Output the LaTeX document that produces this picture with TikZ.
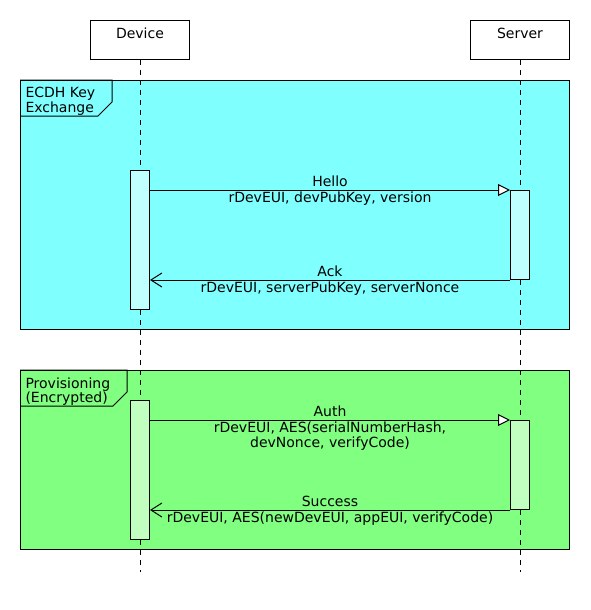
\documentclass[tikz,border=0pt]{standalone}
\usepackage{fontspec}
\setmainfont{DejaVu Sans}
\usetikzlibrary{arrows.meta}
\definecolor{grpcyan}{HTML}{80FFFF}
\definecolor{actcyan}{HTML}{C0FFFF}
\definecolor{grpgreen}{HTML}{80FF80}
\definecolor{actgreen}{HTML}{C0FFC0}
\begin{document}
\begin{tikzpicture}[x=1pt,y=-1pt,line width=1pt,
  font=\fontsize{14}{15.5}\selectfont,
  participant/.style={draw,fill=white,minimum width=99pt,minimum height=39pt,anchor=north west,inner sep=0pt},
  group/.style={draw,anchor=north west,minimum width=549pt,inner sep=0pt},
  act/.style={draw,anchor=north west,minimum width=19pt,inner sep=0pt},
  lifeline/.style={dash pattern=on 5pt off 5pt},
  tablabel/.style={anchor=north west,align=left,inner sep=0pt,font=\fontsize{14}{12.5}\selectfont},
  msgtext/.style={inner sep=1pt,align=center},
  sync/.style={-{Triangle[open,fill=white,length=12pt,width=12pt]}},
  reply/.style={-{Straight Barb[length=11pt,width=14pt]}}]
\useasboundingbox (0,0) rectangle (590,610);
% groups
\node[group,fill=grpcyan,minimum height=249pt] (g1) at (20,80) {};
\node[group,fill=grpgreen,minimum height=179pt] (g2) at (20,370) {};
\draw (g1.north west) -- (112,80) -- (112,102) -- (98,116) -- (20,116);
\draw (g2.north west) -- (127,370) -- (127,392) -- (113,406) -- (20,406);
\node[tablabel] (t1) at (25,87) {ECDH Key\\Exchange};
\node[tablabel] (t2) at (25,377) {Provisioning\\(Encrypted)};
% participants
\node[participant] (dev) at (90,20) {};
\node[participant] (srv) at (470,20) {};
\node (devl) at (dev.north) [anchor=north,yshift=-8pt,inner sep=0pt,text height=10pt] {Device};
\node (srvl) at (srv.north) [anchor=north,yshift=-8pt,inner sep=0pt,text height=10pt] {Server};
\coordinate (devend) at (140,572);
\coordinate (srvend) at (520,572);
\draw[lifeline] (dev.south) -- (devend);
\draw[lifeline] (srv.south) -- (srvend);
% activations
\node[act,fill=actcyan,minimum height=139pt] (da1) at (130,170) {};
\node[act,fill=actcyan,minimum height=89pt] (sa1) at (510,190) {};
\node[act,fill=actgreen,minimum height=139pt] (da2) at (130,400) {};
\node[act,fill=actgreen,minimum height=89pt] (sa2) at (510,420) {};
% messages
\draw[sync] (da1.east |- sa1.north) -- node[msgtext,above=1.5pt] (m1a) {Hello} node[msgtext,below] (m1b) {rDevEUI, devPubKey, version} (sa1.north west);
\draw[reply] (sa1.south west) -- node[msgtext,above=1.5pt] (m2a) {Ack} node[msgtext,below] (m2b) {rDevEUI, serverPubKey, serverNonce} (da1.east |- sa1.south);
\draw[sync] (da2.east |- sa2.north) -- node[msgtext,above=1.5pt] (m3a) {Auth} node[msgtext,below] (m3b) {rDevEUI, AES(serialNumberHash,\\devNonce, verifyCode)} (sa2.north west);
\draw[reply] (sa2.south west) -- node[msgtext,above=1.5pt] (m4a) {Success} node[msgtext,below] (m4b) {rDevEUI, AES(newDevEUI, appEUI, verifyCode)} (da2.east |- sa2.south);
\end{tikzpicture}
\end{document}
